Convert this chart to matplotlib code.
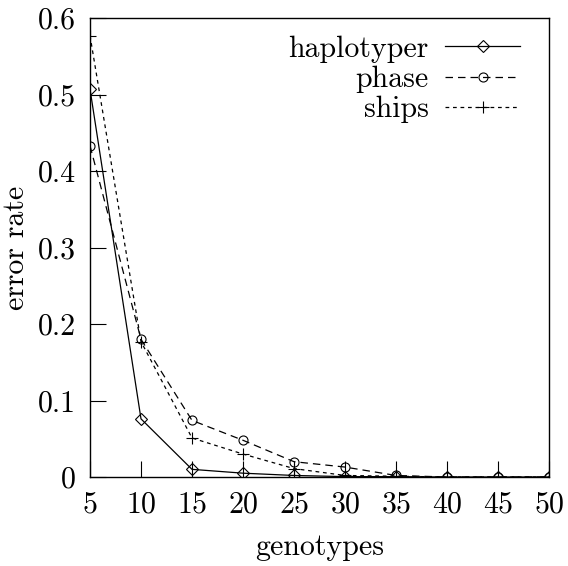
import matplotlib
matplotlib.use("Agg")
import matplotlib.pyplot as plt

plt.rcParams['font.family'] = ['cmr10', 'DejaVu Serif']
plt.rcParams['mathtext.fontset'] = 'cm'
plt.rcParams['axes.formatter.use_mathtext'] = True

# data
genotypes = [5, 10, 15, 20, 25, 30, 35, 40, 45, 50]
haplotyper = [0.507, 0.076, 0.010, 0.005, 0.002, 0.0005, 0.0005, 0.0, 0.0, 0.0]
phase = [0.433, 0.180, 0.074, 0.048, 0.020, 0.013, 0.002, 0.0, 0.0, 0.0]
ships = [0.577, 0.177, 0.051, 0.030, 0.011, 0.002, 0.001, 0.0, 0.0, 0.0]

x_ticks = [5, 10, 15, 20, 25, 30, 35, 40, 45, 50]
y_ticks = [0, 0.1, 0.2, 0.3, 0.4, 0.5, 0.6]
y_labels = ['0', '0.1', '0.2', '0.3', '0.4', '0.5', '0.6']

fig = plt.figure(figsize=(5.68, 5.66), dpi=100)
ax = fig.add_axes([90 / 568, 1 - 477 / 566, 459 / 568, 459 / 566])

ax.plot(genotypes, haplotyper, color='black', lw=0.9, marker='D', ms=6,
        mfc='none', mew=0.8, label='haplotyper')
ax.plot(genotypes, phase, color='black', lw=0.9, ls=(0, (6, 4)), marker='o', ms=6.5,
        mfc='none', mew=0.8, label='phase')
ax.plot(genotypes, ships, color='black', lw=0.9, ls=(0, (3, 3)), marker='+', ms=9,
        mew=0.8, label='ships')

ax.set_xlim(5, 50)
ax.set_ylim(0, 0.6)
ax.set_xticks(x_ticks)
ax.set_yticks(y_ticks)
ax.set_yticklabels(y_labels)
ax.tick_params(direction='in', length=11.5, width=0.8, labelsize=21.5, pad=10,
               top=False, right=False)
for s in ax.spines.values():
    s.set_linewidth(1.0)

ax.set_xlabel('genotypes', fontsize=21.5, labelpad=11)
ax.set_ylabel('error rate', fontsize=21.5, labelpad=6)

ax.legend(loc='upper right', frameon=False, markerfirst=False, fontsize=21.5,
          handlelength=2.5, alignment='right', borderaxespad=0.3,
          bbox_to_anchor=(0.982, 1.008),
          labelspacing=0.1, handletextpad=0.55)

fig.savefig('out.png', dpi=100)
